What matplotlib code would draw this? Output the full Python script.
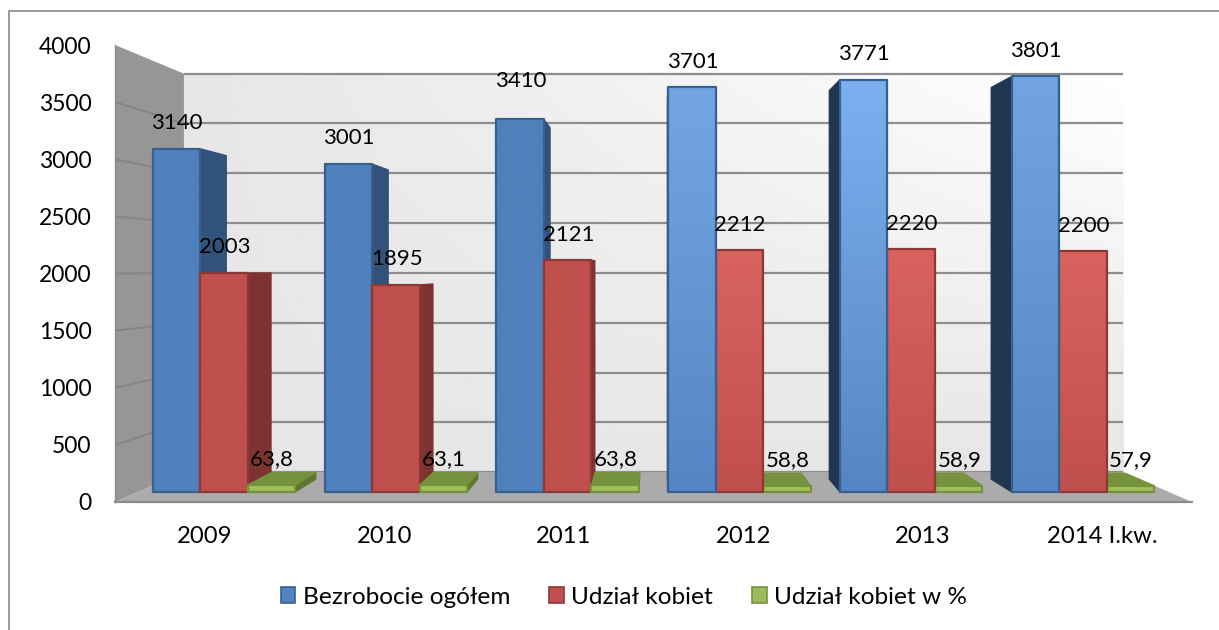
import numpy as np
import matplotlib
matplotlib.use("Agg")
import matplotlib.pyplot as plt
from matplotlib.colors import to_rgb
from matplotlib.lines import Line2D
from matplotlib.patches import Patch, Polygon

plt.rcParams["font.family"] = ["Lato", "DejaVu Sans"]

# data

categories = ["2009", "2010", "2011", "2012", "2013", "2014 I.kw."]
total = [3140, 3001, 3410, 3701, 3771, 3801]
women = [2003, 1895, 2121, 2212, 2220, 2200]
women_pct = [63.8, 63.1, 63.8, 58.8, 58.9, 57.9]
women_pct_labels = ["63,8", "63,1", "63,8", "58,8", "58,9", "57,9"]
series_names = ["Bezrobocie ogółem", "Udział kobiet", "Udział kobiet w %"]
y_ticks = [0, 500, 1000, 1500, 2000, 2500, 3000, 3500, 4000]

# fake 3d view: depth is a scale towards the vanishing point

VP_X = 3.0
VP_Y = 2040.0
S_BAR_FRONT = 0.957
S_BAR_BACK = 0.902
S_WALL = 0.872
BAR_W = 0.2765

# bar colours: front top, front bottom per category

BLUE_TOP = ["#4f81bd", "#4f81bd", "#4f81bd", "#74a6e4", "#7cb0f0", "#72a4e2"]
BLUE_BOTTOM = ["#4f81bd", "#4f81bd", "#4f81bd", "#5585c4", "#5585c5", "#5585c5"]
RED_TOP = ["#c0504d", "#c0504d", "#c0504d", "#d9625f", "#d9625f", "#d9625f"]
RED_BOTTOM = ["#c0504d", "#c0504d", "#c0504d", "#c0504d", "#c0504d", "#c0504d"]
GRID = "#8e8e8e"


def project(x, v, s):
    return (VP_X + (x - VP_X) * s, VP_Y + (v - VP_Y) * s)


def poly(ax, pts, color, edge=None, lw=0, z=3):
    p = Polygon(pts, closed=True, facecolor=color, edgecolor=edge or color, linewidth=lw, zorder=z, joinstyle="round")
    ax.add_patch(p)
    return p


def gradient_rect(ax, pts, top, bottom, z):
    xs = [p[0] for p in pts]
    ys = [p[1] for p in pts]
    c0 = np.array(to_rgb(top))
    c1 = np.array(to_rgb(bottom))
    t = np.linspace(0, 1, 128)[:, None, None]
    img = (c0[None, None, :] * (1 - t) + c1[None, None, :] * t)
    im = ax.imshow(img, extent=(min(xs), max(xs), min(ys), max(ys)), aspect="auto", origin="upper", zorder=z, interpolation="bilinear")
    im.set_clip_path(Polygon(pts, closed=True, transform=ax.transData))


def draw_bar(ax, x0, x1, v, top, bottom, edge, side, top_face=None, z=3):
    fl, ft = project(x0, 0, S_BAR_FRONT), project(x0, v, S_BAR_FRONT)
    fr, frt = project(x1, 0, S_BAR_FRONT), project(x1, v, S_BAR_FRONT)
    bl, blt = project(x0, 0, S_BAR_BACK), project(x0, v, S_BAR_BACK)
    br, brt = project(x1, 0, S_BAR_BACK), project(x1, v, S_BAR_BACK)
    if x1 < VP_X:
        poly(ax, [fr, frt, brt, br], side, edge=side, lw=0.8, z=z)
    elif x0 > VP_X:
        poly(ax, [fl, ft, blt, bl], side, edge=side, lw=0.8, z=z)
    if top_face is not None:
        poly(ax, [ft, frt, brt, blt], top_face, edge=edge, lw=0.8, z=z)
    gradient_rect(ax, [fl, ft, frt, fr], top, bottom, z + 0.01)
    poly(ax, [fl, ft, frt, fr], "none", edge=edge, lw=1.6, z=z + 0.02)


W, H = 1219, 630
fig = plt.figure(figsize=(W / 100, H / 100), dpi=100, facecolor="white")
ax = fig.add_axes([115 / W, 1 - 502 / H, (1192 - 115) / W, (502 - 45) / H])
ax.patch.set_visible(False)

# back wall, gradient goes white towards the top right corner

(wx0, wy0), (wx1, wy1) = project(0, 0, S_WALL), project(6, 4000, S_WALL)
u, w = np.meshgrid(np.linspace(0, 1, 200), np.linspace(1, 0, 200))
wall = (230 + 25 * u * w) / 255
ax.imshow(wall, extent=(wx0, wx1, wy0, wy1), cmap="gray", vmin=0, vmax=1, aspect="auto", origin="upper", zorder=0)

for t in y_ticks:
    gx0, gy = project(0, t, S_WALL)
    gx1, _ = project(6, t, S_WALL)
    ax.plot([gx0, gx1], [gy, gy], color=GRID, lw=1.6, zorder=1, solid_capstyle="butt")

# left wall and floor

poly(ax, [(0, 0), (0, 4000), project(0, 4000, S_WALL), project(0, 0, S_WALL)], "#969696", z=1.1)
for t in y_ticks[1:-1]:
    ax.plot([0, project(0, t, S_WALL)[0]], [t, project(0, t, S_WALL)[1]], color="#858585", lw=1.4, zorder=1.2)
poly(ax, [(0, 0), (6, 0), project(6, 0, S_WALL), project(0, 0, S_WALL)], "#ababab", z=1.3)
ax.plot([0, 6], [0, 0], color="#8c8c8c", lw=1.6, zorder=1.4, clip_on=False)
ax.plot([0, 0], [0, 4000], color="#8c8c8c", lw=1.0, zorder=1.4, clip_on=False)

# bars, painted from the outside towards the vanishing point

for i in range(len(categories)):
    c = i + 0.5
    edges = [c - 1.5 * BAR_W, c - 0.5 * BAR_W, c + 0.5 * BAR_W, c + 1.5 * BAR_W]
    bars = [
        (edges[0], edges[1], total[i], BLUE_TOP[i], BLUE_BOTTOM[i], "#38608f", "#31527a" if c < VP_X else "#1f3550", None),
        (edges[1], edges[2], women[i], RED_TOP[i], RED_BOTTOM[i], "#8c3836", "#7e3331", None),
        (edges[2], edges[3], women_pct[i], "#a5c65f", "#9bbb59", "#76923c", "#5f7530", "#76923c"),
    ]
    if c > VP_X:
        bars = bars[::-1]
    for k, b in enumerate(bars):
        draw_bar(ax, *b, z=3 + i * 0.1 + k * 0.03 if c < VP_X else 3 + (5 - i) * 0.1 + k * 0.03)

# value labels sit about 25 px over the bar top

label_px = 25.5
for i in range(len(categories)):
    c = i + 0.5
    for k, (v, txt) in enumerate([(total[i], str(total[i])), (women[i], str(women[i])), (women_pct[i], women_pct_labels[i])]):
        xy = project(c + (k - 1) * BAR_W, v, S_BAR_FRONT)
        extra = 13 if total[i] == 3410 and k == 0 else 0
        ax.annotate(txt, xy=xy, xytext=(0.5, (label_px + extra) * 0.72), textcoords="offset points",
                    ha="center", va="center", fontsize=16, color="black", zorder=10)

ax.set_xlim(0, 6)
ax.set_ylim(0, 4000)
ax.set_xticks([i + 0.5 for i in range(len(categories))])
ax.set_xticklabels(categories)
ax.set_yticks(y_ticks)
ax.tick_params(axis="x", length=0, pad=17, labelsize=17.2)
ax.tick_params(axis="y", length=0, pad=17, labelsize=16.5)
for sp in ax.spines.values():
    sp.set_visible(False)

# legend

handles = [
    Patch(facecolor="#4f81bd", edgecolor="#38608f", linewidth=1.2),
    Patch(facecolor="#c0504d", edgecolor="#8c3836", linewidth=1.2),
    Patch(facecolor="#9bbb59", edgecolor="#76923c", linewidth=1.2),
]
fig.legend(handles, series_names, loc="center", bbox_to_anchor=(624 / W, 1 - 597 / H), ncol=3, frameon=False,
           fontsize=17.6, handlelength=0.6, handleheight=0.6, handletextpad=0.3, columnspacing=1.6)

# chart border, only left and top are inside the crop

fig.add_artist(Line2D([8.5 / W, 8.5 / W, 1], [0, 1 - 10.5 / H, 1 - 10.5 / H], color="#8a8a8a", lw=1.2))

fig.savefig("out.png", dpi=100)
